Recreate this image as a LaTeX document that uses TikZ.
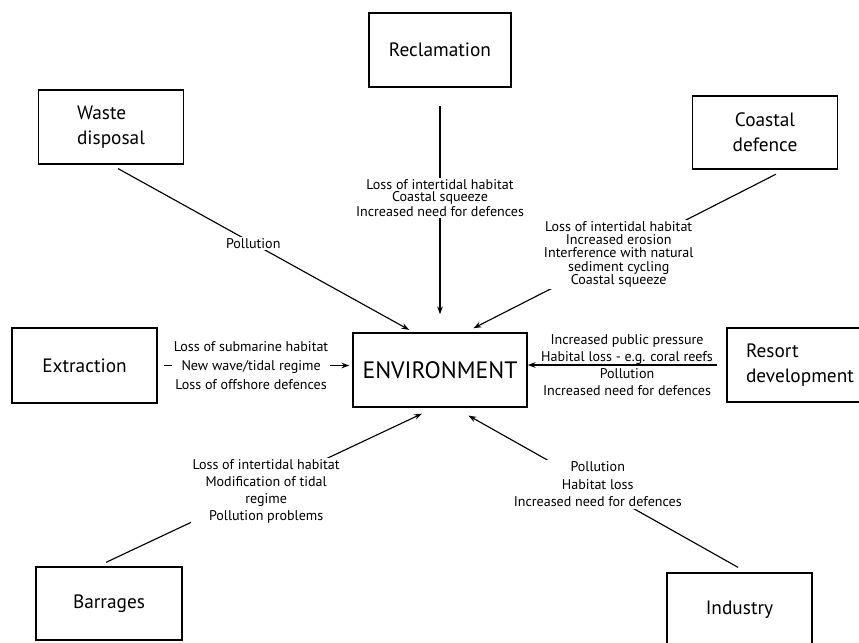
\documentclass[tikz,border=0pt]{standalone}
\usepackage{fontspec}
\setmainfont{PT Sans}
\usetikzlibrary{arrows.meta}
\tikzset{
  box/.style={rectangle,draw,line width=0.8pt,minimum width=2.9cm,minimum height=1.48cm,font=\fontsize{11}{14}\selectfont},
  effect/.style={align=center,inner sep=1pt,font=\fontsize{8}{#1}\selectfont},
  effect/.default=9.6,
  impact/.style={-{Stealth[length=4.5pt,width=3.2pt]},line width=0.65pt}
}
\begin{document}
\begin{tikzpicture}
  \clip (0,0) rectangle (17.18,-12.84);
  % draw environment
  \node at(8.80,-7.40)[box,minimum width=3.48cm,font=\fontsize{13.5}{16}\selectfont](env){ENVIRONMENT};
  % draw the causes
  \node at(8.80,-1.00)[box,minimum width=2.84cm](recl){Reclamation};
  \node at(2.22,-2.54)[box,align=left](waste){Waste\\disposal};
  \node at(15.30,-2.65)[box,align=center,minimum height=1.46cm](coastal){Coastal\\defence};
  \node at(1.69,-7.31)[box,minimum height=1.5cm](extraction){Extraction};
  \node at(16.00,-7.30)[box,align=left,minimum width=2.92cm](resort){Resort\\development};
  \node at(2.18,-12.07)[box,minimum width=2.92cm,minimum height=1.46cm](barrages){Barrages};
  \node at(14.79,-12.20)[box](industry){Industry};
  % draw arrows into environment
  \draw [impact,shorten <=0.16cm,shorten >=0.1cm](waste.south) -- node[pos=0.47,fill=white,effect]{Pollution} (env.125);
  \draw [impact,shorten <=0.36cm,shorten >=0.36cm](recl.south) -- node[pos=0.45,fill=white,effect=7]{Loss of intertidal habitat\\Coastal squeeze\\Increased need for defences} (env.north);
  \draw [impact,shorten <=0.2cm,shorten >=0.18cm](coastal.-62) -- node[pos=0.52,fill=white,effect=7.5]{Loss of intertidal habitat\\Increased erosion\\Interference with natural\\sediment cycling\\Coastal squeeze} (env.56);
  \draw [impact,shorten <=0.12cm,shorten >=0.06cm](extraction.east) -- node[pos=0.48,fill=white,effect=10.8]{Loss of submarine habitat\\New wave/tidal regime\\Loss of offshore defences} (extraction.east -| env.west);
  \draw [impact,shorten <=0.18cm](resort.west) -- node[pos=0.5,effect=9.6]{Increased public pressure\\Habital loss - e.g. coral reefs\\Pollution\\Increased need for defences} (resort.west -| env.east);
  \draw [impact,shorten <=0.19cm,shorten >=0.28cm](barrages.107) -- node[pos=0.5,yshift=-0.09cm,fill=white,effect=9.6]{Loss of intertidal habitat\\Modification of tidal\\regime\\Pollution problems} (env.-98);
  \draw [impact,shorten <=0.2cm,shorten >=0.32cm](industry.79) -- node[pos=0.51,yshift=0.08cm,fill=white,effect=9.9]{Pollution\\Habitat loss\\Increased need for defences} (env.-69);
\end{tikzpicture}
\end{document}
